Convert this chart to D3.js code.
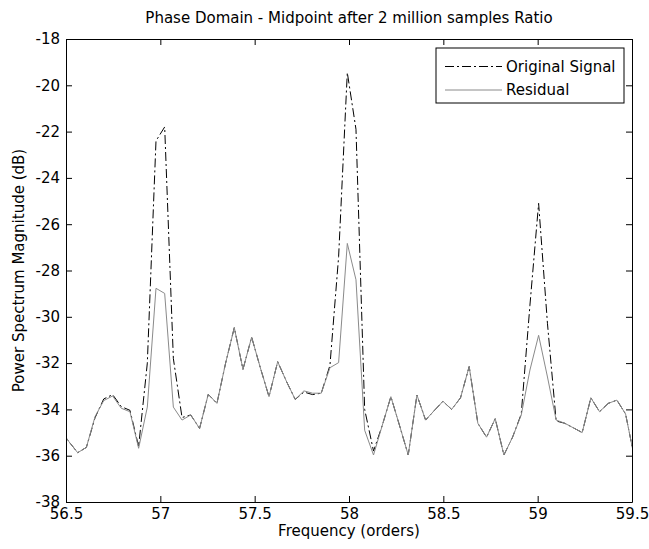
<!DOCTYPE html>
<html>
<head>
<meta charset="utf-8">
<script src="https://cdn.jsdelivr.net/npm/d3@7/dist/d3.min.js"></script>
<style>
  html, body { margin: 0; padding: 0; background: #ffffff; }
  svg { display: block; }
  text { font-family: "DejaVu Sans", "Liberation Sans", Arial, sans-serif; fill: #000; }
</style>
</head>
<body>
<svg id="chart" width="649" height="549"></svg>
<script>
// ---- data ----
const frequency = [
  56.470, 56.516, 56.562, 56.608, 56.654, 56.700, 56.747, 56.793, 56.839, 56.885,
  56.931, 56.977, 57.023, 57.069, 57.115, 57.161, 57.208, 57.254, 57.300, 57.346,
  57.392, 57.438, 57.484, 57.530, 57.576, 57.622, 57.669, 57.715, 57.761, 57.807,
  57.853, 57.899, 57.945, 57.991, 58.037, 58.083, 58.130, 58.176, 58.222, 58.268,
  58.314, 58.360, 58.406, 58.452, 58.498, 58.544, 58.591, 58.637, 58.683, 58.729,
  58.775, 58.821, 58.867, 58.913, 58.959, 59.005, 59.052, 59.098, 59.144, 59.190,
  59.236, 59.282, 59.328, 59.374, 59.420, 59.466, 59.513
];
const originalSignal = [
  -34.85, -35.40, -35.87, -35.64, -34.36, -33.55, -33.36, -33.88, -34.04, -35.60,
  -32.00, -22.40, -21.80, -31.80, -34.35, -34.24, -34.82, -33.35, -33.74, -32.00,
  -30.47, -32.27, -30.88, -32.20, -33.45, -31.94, -32.80, -33.57, -33.25, -33.36,
  -33.30, -32.10, -27.40, -19.45, -21.90, -34.00, -35.80, -34.70, -33.45, -34.70,
  -35.97, -33.38, -34.46, -34.05, -33.65, -34.00, -33.50, -32.15, -34.60, -35.20,
  -34.40, -35.97, -35.20, -34.20, -29.50, -25.10, -30.30, -34.50, -34.60, -34.80,
  -35.00, -33.50, -34.10, -33.74, -33.60, -34.20, -36.10
];
const residual = [
  -34.85, -35.40, -35.87, -35.64, -34.31, -33.62, -33.42, -33.95, -34.10, -35.68,
  -33.90, -28.77, -28.99, -33.90, -34.46, -34.24, -34.82, -33.35, -33.74, -32.00,
  -30.47, -32.27, -30.88, -32.20, -33.45, -31.94, -32.80, -33.57, -33.20, -33.30,
  -33.30, -32.20, -31.98, -26.83, -28.40, -34.90, -35.97, -34.70, -33.45, -34.70,
  -35.97, -33.38, -34.46, -34.05, -33.65, -34.00, -33.50, -32.15, -34.60, -35.20,
  -34.40, -35.97, -35.20, -34.24, -32.30, -30.80, -32.60, -34.46, -34.60, -34.80,
  -35.00, -33.50, -34.10, -33.74, -33.60, -34.20, -36.10
];
const xTicks = [56.5, 57, 57.5, 58, 58.5, 59, 59.5];
const xTickLabels = ["56.5", "57", "57.5", "58", "58.5", "59", "59.5"];
const yTicks = [-38, -36, -34, -32, -30, -28, -26, -24, -22, -20, -18];
const seriesNames = ["Original Signal", "Residual"];
const titleText = "Phase Domain - Midpoint after 2 million samples Ratio";
const xLabelText = "Frequency (orders)";
const yLabelText = "Power Spectrum Magnitude (dB)";

// ---- layout ----
const svg = d3.select("#chart");
const L = 66, R = 632, T = 39, B = 502;
const x = d3.scaleLinear().domain([56.5, 59.5]).range([L, R]);
const y = d3.scaleLinear().domain([-38, -18]).range([B, T]);
const fs = 15;
const FONT = "DejaVu Sans, Liberation Sans, Arial, sans-serif";
const tickLen = 6;
const dashDot = "9,3,2,3";
const residualColor = "#8a8a8a";

svg.append("rect").attr("x", 0).attr("y", 0).attr("width", 649).attr("height", 549).attr("fill", "#fff");

svg.append("defs").append("clipPath").attr("id", "plotclip")
  .append("rect").attr("x", L).attr("y", T).attr("width", R - L).attr("height", B - T);

const line = d3.line().x(d => x(d[0])).y(d => y(d[1]));
const g = svg.append("g").attr("clip-path", "url(#plotclip)");

g.append("path")
  .datum(frequency.map((f, i) => [f, originalSignal[i]]))
  .attr("d", line)
  .attr("fill", "none")
  .attr("stroke", "#000")
  .attr("stroke-width", 1)
  .attr("stroke-dasharray", dashDot);

g.append("path")
  .datum(frequency.map((f, i) => [f, residual[i]]))
  .attr("d", line)
  .attr("fill", "none")
  .attr("stroke", residualColor)
  .attr("stroke-width", 1);

// ---- axes (MATLAB style: box, inward ticks on all sides) ----
const axB = d3.axisBottom(x).tickValues(xTicks).tickFormat((d, i) => xTickLabels[i]).tickSizeInner(-tickLen).tickSizeOuter(0).tickPadding(6);
const axT = d3.axisTop(x).tickValues(xTicks).tickFormat("").tickSizeInner(-tickLen).tickSizeOuter(0);
const axL = d3.axisLeft(y).tickValues(yTicks).tickFormat(d => String(d)).tickSizeInner(-tickLen).tickSizeOuter(0).tickPadding(6);
const axR = d3.axisRight(y).tickValues(yTicks).tickFormat("").tickSizeInner(-tickLen).tickSizeOuter(0);

function styleAxis(sel) {
  sel.selectAll("path.domain").attr("stroke", "#000").attr("stroke-width", 1);
  sel.selectAll(".tick line").attr("stroke", "#000").attr("stroke-width", 1);
  sel.selectAll(".tick text").attr("font-size", fs).attr("fill", "#000").attr("font-family", FONT);
}
svg.append("g").attr("transform", `translate(0,${B})`).call(axB).call(styleAxis);
svg.append("g").attr("transform", `translate(0,${T})`).call(axT).call(styleAxis);
svg.append("g").attr("transform", `translate(${L},0)`).call(axL).call(styleAxis);
svg.append("g").attr("transform", `translate(${R},0)`).call(axR).call(styleAxis);

// ---- titles ----
svg.append("text").attr("x", (L + R) / 2).attr("y", 23).attr("text-anchor", "middle")
  .attr("font-size", fs).attr("font-family", FONT).text(titleText);
svg.append("text").attr("x", (L + R) / 2).attr("y", 536).attr("text-anchor", "middle")
  .attr("font-size", fs).attr("font-family", FONT).text(xLabelText);
svg.append("text").attr("transform", `translate(24,${(T + B) / 2}) rotate(-90)`).attr("text-anchor", "middle")
  .attr("font-size", fs).attr("font-family", FONT).text(yLabelText);

// ---- legend ----
const lg = svg.append("g");
lg.append("rect").attr("x", 436).attr("y", 48).attr("width", 188).attr("height", 55)
  .attr("fill", "#fff").attr("stroke", "#000").attr("stroke-width", 1);
const legendStyles = [
  { stroke: "#000", dash: dashDot },
  { stroke: residualColor, dash: null }
];
seriesNames.forEach((name, i) => {
  const yy = 66.5 + i * 23.5;
  lg.append("line").attr("x1", 445).attr("x2", 502).attr("y1", yy).attr("y2", yy)
    .attr("stroke", legendStyles[i].stroke).attr("stroke-width", 1)
    .attr("stroke-dasharray", legendStyles[i].dash);
  lg.append("text").attr("x", 506).attr("y", yy + 5).attr("font-size", fs)
    .attr("font-family", FONT).text(name);
});
</script>
</body>
</html>
